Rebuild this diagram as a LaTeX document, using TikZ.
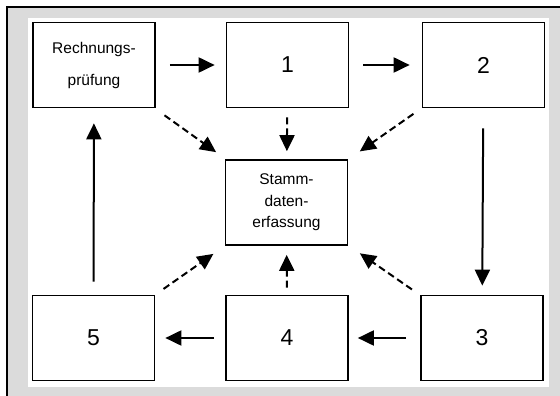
\documentclass[tikz,border=0pt]{standalone}
\usepackage{fontspec}
\setmainfont{Liberation Sans}
\usetikzlibrary{arrows.meta}
\tikzset{>={Triangle[length=16pt,width=15pt]},font=\fontsize{15.5}{21.5}\selectfont}
\tikzset{box/.style={draw,line width=1.7pt,minimum width=122pt,minimum height=85pt,inner sep=0pt,align=center},
  num/.style={box,font=\fontsize{23}{26}\selectfont},
  flow/.style={line width=2pt},
  feed/.style={line width=2pt,dash pattern=on 7pt off 4pt}}

\begin{document}
\begin{tikzpicture}[x=1pt,y=-1pt]
\useasboundingbox (0,0) rectangle (560,396);
\fill[gray!28] (7,7) rectangle (560,396);
\fill[white] (28,18) rectangle (549,387);
\draw[line width=2pt] (7,396) -- (7,7) -- (560,7);
\node[box,font=\fontsize{15.5}{32}\selectfont] (R) at (94,65) {Rechnungs-\\prüfung};
\node[num] (N1) at (287.5,65) {1};
\node[num] (N2) at (483.5,65) {2};
\node[box] (S) at (286.5,202.5) {Stamm-\\daten-\\erfassung};
\node[num] (N5) at (93.5,338) {5};
\node[num] (N4) at (287,338) {4};
\node[num] (N3) at (482,338) {3};
\path[->] (R) edge[flow,shorten <=14pt,shorten >=11pt] (N1);
\path[->] (N1) edge[flow,shorten <=14pt,shorten >=12pt] (N2);
\path[->] (N2) edge[flow,shorten <=20pt,shorten >=9pt] (N3);
\path[->] (N3) edge[flow,shorten <=14pt,shorten >=9pt] (N4);
\path[->] (N4) edge[flow,shorten <=11pt,shorten >=10pt] (N5);
\path[->] (N5) edge[flow,shorten <=13pt,shorten >=15pt] (R);
\path[->] (R) edge[feed,shorten <=12pt,shorten >=12pt] (S);
\path[->] (N1) edge[feed,shorten <=9pt,shorten >=8pt] (S);
\path[->] (N2) edge[feed,shorten <=10pt,shorten >=14pt] (S);
\path[->] (N5) edge[feed,shorten <=10pt,shorten >=14pt] (S);
\path[->] (N4) edge[feed,shorten <=7pt,shorten >=9pt] (S);
\path[->] (N3) edge[feed,shorten <=10pt,shorten >=14pt] (S);
\end{tikzpicture}
\end{document}
